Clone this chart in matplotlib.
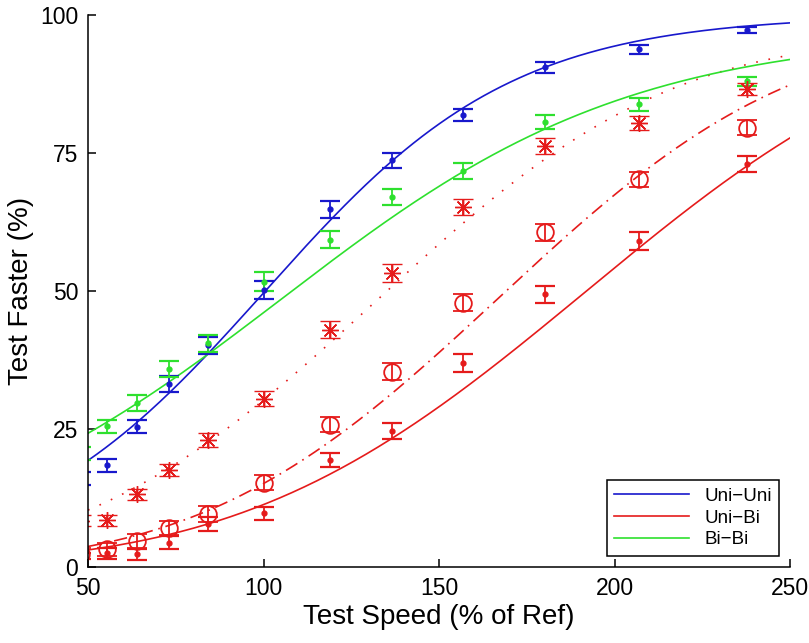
import math
import numpy as np
import matplotlib
matplotlib.use("Agg")
import matplotlib.pyplot as plt

plt.rcParams['font.family'] = ['Liberation Sans', 'DejaVu Sans']

# test speeds (% of reference), first one sits just left of the axis and is clipped
speed = [48.1, 55.3, 63.9, 73.2, 84.1, 100.0, 118.9, 136.5, 156.9, 180.2, 207.1, 237.8]

# Uni-Uni (blue)
uni_uni = [16.1, 18.4, 25.4, 33.2, 40.2, 50.2, 64.8, 73.7, 81.9, 90.5, 93.8, 97.3]
uni_uni_err = [1.2, 1.2, 1.2, 1.45, 1.55, 1.6, 1.5, 1.35, 1.15, 0.95, 0.8, 0.6]

# Bi-Bi (green)
bi_bi = [20.6, 25.5, 29.7, 35.9, 40.5, 51.7, 59.3, 67.0, 71.7, 80.6, 83.8, 88.0]
bi_bi_err = [1.2, 1.2, 1.4, 1.45, 1.5, 1.7, 1.5, 1.45, 1.45, 1.3, 1.15, 0.8]

# Uni-Bi (red) - three conditions
uni_bi_dot = [2.0, 2.5, 2.3, 4.4, 7.8, 9.7, 19.4, 24.6, 37.0, 49.4, 59.0, 73.0]
uni_bi_dot_err = [0.5, 1.0, 1.0, 1.2, 1.3, 1.2, 1.25, 1.4, 1.6, 1.5, 1.6, 1.4]
uni_bi_circ = [2.4, 3.2, 4.7, 7.1, 9.6, 15.3, 25.8, 35.4, 47.9, 60.6, 70.2, 79.6]
uni_bi_circ_err = [1.0, 1.2, 1.3, 1.3, 1.4, 1.4, 1.4, 1.55, 1.6, 1.6, 1.35, 1.35]
uni_bi_star = [8.4, 8.5, 13.2, 17.6, 23.0, 30.5, 43.0, 53.3, 65.2, 76.3, 80.4, 86.6]
uni_bi_star_err = [1.0, 1.0, 1.0, 1.1, 1.2, 1.3, 1.5, 1.6, 1.5, 1.4, 1.3, 1.15]

# psychometric fit parameters (threshold, spread, lapse)
fit_uni_uni = (100.5, 35.3, 0.0)     # logistic
fit_bi_bi = (105.0, 50.0, 0.03)      # logistic
fit_uni_bi_dot = (192.0, 76.0, 0.0)  # cumulative gaussian
fit_uni_bi_circ = (167.0, 66.0, 0.025)
fit_uni_bi_star = (132.0, 66.0, 0.037)

BLUE = '#1818cc'
RED = '#e51b1b'
GREEN = '#2ee02e'


def logistic(x, mu, s, lapse):
    return 100.0 * (1 - lapse) / (1.0 + np.exp(-(x - mu) / s))


def cum_gauss(x, mu, s, lapse):
    z = (x - mu) / s
    phi = np.array([0.5 * (1 + math.erf(v / math.sqrt(2))) for v in z])
    return 100.0 * (1 - lapse) * phi


xs = np.linspace(50, 250, 400)

fig = plt.figure(figsize=(8.09, 6.43), dpi=100)
ax = fig.add_axes([88 / 809, 1 - 567 / 643, 702 / 809, 552 / 643])

# fitted curves
l_uu, = ax.plot(xs, logistic(xs, *fit_uni_uni), color=BLUE, lw=1.2, label='Uni\u2212Uni')
l_ub, = ax.plot(xs, cum_gauss(xs, *fit_uni_bi_dot), color=RED, lw=1.2, label='Uni\u2212Bi')
ax.plot(xs, cum_gauss(xs, *fit_uni_bi_circ), color=RED, lw=1.2, ls=(0, (8, 3.5, 1, 3.5)))
ax.plot(xs, cum_gauss(xs, *fit_uni_bi_star), color=RED, lw=1.2, ls=(0, (1, 6.5)))
l_bb, = ax.plot(xs, logistic(xs, *fit_bi_bi), color=GREEN, lw=1.2, label='Bi\u2212Bi')

eb = dict(ls='none', elinewidth=1.3, capsize=7.3, capthick=1.6)
ax.errorbar(speed, uni_uni, yerr=uni_uni_err, color=BLUE, marker='o', ms=3.5, **eb)
ax.errorbar(speed, bi_bi, yerr=bi_bi_err, color=GREEN, marker='o', ms=3.5, **eb)
ax.errorbar(speed, uni_bi_dot, yerr=uni_bi_dot_err, color=RED, marker='o', ms=3.5, **eb)
ax.errorbar(speed, uni_bi_circ, yerr=uni_bi_circ_err, color=RED, marker='o', ms=12,
            mfc='none', mew=1.3, **eb)
ax.errorbar(speed, uni_bi_star, yerr=uni_bi_star_err, color=RED, marker=(8, 2, 0), ms=12,
            mew=1.0, **eb)

ax.set_xlim(50, 250)
ax.set_ylim(0, 100)
ax.set_xticks([50, 100, 150, 200, 250])
ax.set_yticks([0, 25, 50, 75, 100])
ax.spines['top'].set_visible(False)
ax.spines['right'].set_visible(False)
for side in ('left', 'bottom'):
    ax.spines[side].set_linewidth(1.1)
ax.tick_params(direction='in', length=6, width=1.1, labelsize=16.5, pad=7)

ax.set_xlabel('Test Speed (% of Ref)', fontsize=20, labelpad=3)
ax.set_ylabel('Test Faster (%)', fontsize=20, labelpad=4)

leg = ax.legend(handles=[l_uu, l_ub, l_bb], loc='lower right',
                bbox_to_anchor=(779 / 809, 1 - 556 / 643), bbox_transform=fig.transFigure,
                borderaxespad=0, fontsize=13.5, handlelength=4.0, frameon=True,
                fancybox=False, framealpha=1, edgecolor='black', labelspacing=0.25,
                borderpad=0.4)
leg.get_frame().set_linewidth(1.1)

fig.savefig('out.png', dpi=100)
